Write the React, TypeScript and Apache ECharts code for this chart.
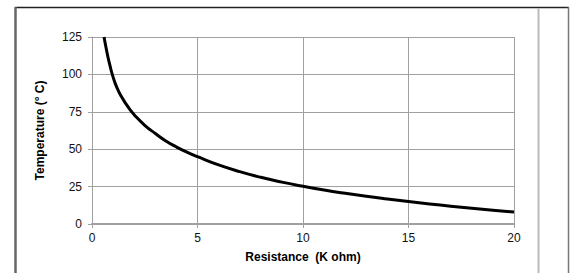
import React, { useEffect, useRef } from "react";
import * as echarts from "echarts";

const resistance = [0.57, 0.65, 0.75, 0.85, 0.95, 1.1, 1.25, 1.4, 1.6, 1.8, 2.0, 2.5, 3.0, 3.5, 4.0, 4.5, 5, 6, 7, 8, 9, 10, 11, 12, 13, 14, 15, 16, 17, 18, 19, 20];
const temperature = [125, 119, 112, 106, 100.5, 94, 89, 85, 80.5, 76.5, 73, 66, 60.5, 55.5, 51.5, 48, 45, 39.5, 35, 31.2, 28, 25.2, 22.7, 20.5, 18.5, 16.7, 15, 13.4, 11.9, 10.5, 9.2, 8];

const xTitle = "Resistance  (K ohm)";
const yTitle = "Temperature (° C)";

export default function App() {
  const ref = useRef<HTMLDivElement>(null);
  useEffect(() => {
    if (!ref.current) return;
    const chart = echarts.init(ref.current, undefined, { renderer: "svg" });
    const font = "Liberation Sans, Arial, sans-serif";
    chart.setOption({
      animation: false,
      backgroundColor: "#ffffff",
      grid: { left: 92, top: 37, width: 422, height: 187, containLabel: false },
      xAxis: {
        type: "value",
        min: 0,
        max: 20,
        interval: 5,
        name: xTitle,
        nameLocation: "middle",
        nameGap: 27,
        nameTextStyle: { fontFamily: font, fontSize: 12, fontWeight: "bold", color: "#000" },
        axisLine: { show: true, lineStyle: { color: "#a0a0a0", width: 2 } },
        axisTick: { show: true, length: 4, lineStyle: { color: "#a0a0a0" } },
        axisLabel: { fontFamily: font, fontSize: 12, color: "#111", margin: 8 },
        splitLine: { show: true, lineStyle: { color: "#a0a0a0", width: 1 } },
      },
      yAxis: {
        type: "value",
        min: 0,
        max: 125,
        interval: 25,
        name: yTitle,
        nameLocation: "middle",
        nameGap: 46,
        nameRotate: 90,
        nameTextStyle: { fontFamily: font, fontSize: 12, fontWeight: "bold", color: "#000" },
        axisLine: { show: true, lineStyle: { color: "#a0a0a0", width: 1 } },
        axisTick: { show: true, length: 4, lineStyle: { color: "#a0a0a0" } },
        axisLabel: { fontFamily: font, fontSize: 12, color: "#111", margin: 10 },
        splitLine: { show: true, lineStyle: { color: "#a0a0a0", width: 1 } },
      },
      series: [
        {
          type: "line",
          data: resistance.map((r, i) => [r, temperature[i]]),
          smooth: 0.5,
          showSymbol: false,
          lineStyle: { color: "#000", width: 3 },
          clip: true,
        },
      ],
      graphic: [
        { type: "line", shape: { x1: 15, y1: 7.5, x2: 569, y2: 7.5 }, style: { stroke: "#222", lineWidth: 1.5 } },
        { type: "line", shape: { x1: 15.5, y1: 7, x2: 15.5, y2: 273 }, style: { stroke: "#666", lineWidth: 2.5 } },
        { type: "line", shape: { x1: 568.5, y1: 7, x2: 568.5, y2: 273 }, style: { stroke: "#777", lineWidth: 1.5 } },
        { type: "line", shape: { x1: 538.5, y1: 8, x2: 538.5, y2: 273 }, style: { stroke: "#bbb", lineWidth: 2 } },
      ],
    });
    return () => chart.dispose();
  }, []);
  return <div ref={ref} style={{ position: "fixed", left: 0, top: 0, width: 574, height: 273 }} />;
}
